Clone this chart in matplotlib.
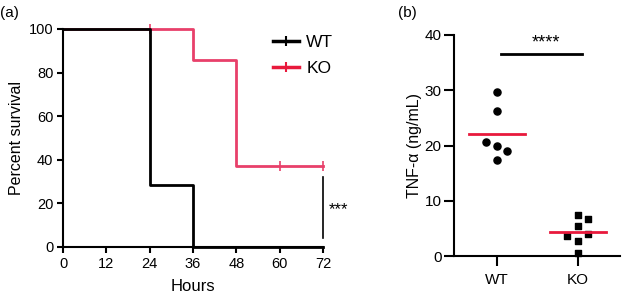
import matplotlib
matplotlib.use("Agg")
import matplotlib.pyplot as plt
from matplotlib.lines import Line2D
import numpy as np

plt.rcParams["font.family"] = ["Liberation Sans", "DejaVu Sans"]

# survival curves (step, post)
wt_hours = [0, 24, 36, 72]
wt_surv = [100, 28.6, 0, 0]
ko_hours = [0, 36, 48, 72]
ko_surv = [100, 85.7, 37, 37]
ko_censor_hours = [24, 60, 72]
ko_censor_surv = [100, 37, 37]

# TNF-alpha scatter
wt_tnf = [29.6, 26.2, 20.7, 20.0, 19.0, 17.4]
wt_jit = [0, 0, -0.13, 0, 0.13, 0]
ko_tnf = [7.4, 6.7, 5.4, 3.6, 4.0, 2.7, 0.5]
ko_jit = [0, 0.13, 0, -0.13, 0.13, 0, 0]
groups = ["WT", "KO"]

RED = "#e8193c"
PINK = "#e8406a"

fig = plt.figure(figsize=(6.22, 3.01), dpi=100)
W, H = 622, 301

def add_ax(x0, y0, x1, y1):
    return fig.add_axes([x0 / W, 1 - y1 / H, (x1 - x0) / W, (y1 - y0) / H])

# ---- (a) survival ----
ax = add_ax(63, 29, 323, 247)
ax.step(wt_hours, wt_surv, where="post", color="black", lw=2, clip_on=False, zorder=3)
ax.step(ko_hours, ko_surv, where="post", color=PINK, lw=2, clip_on=False, zorder=2)
ax.plot(ko_censor_hours, ko_censor_surv, ls="none", marker="|", ms=7, mew=1.2,
        color=PINK, clip_on=False)
ax.set_xlim(0, 72)
ax.set_ylim(0, 100)
ax.set_xticks(range(0, 73, 12))
ax.set_yticks(range(0, 101, 20))
for s in ["top", "right"]:
    ax.spines[s].set_visible(False)
for s in ["left", "bottom"]:
    ax.spines[s].set_linewidth(1.5)
ax.tick_params(width=1.5, length=4, labelsize=10.5, pad=3)
ax.set_xlabel("Hours", fontsize=12, labelpad=6)
ax.set_ylabel("Percent survival", fontsize=11.5, labelpad=3)

handles = [Line2D([], [], color="black", lw=2.5, marker="|", ms=7, mew=1.5),
           Line2D([], [], color=RED, lw=2.5, marker="|", ms=7, mew=1.5)]
ax.legend(handles, ["WT", "KO"], loc="upper right", bbox_to_anchor=(1.08, 1.02),
          frameon=False, fontsize=12.5, handlelength=1.5, handletextpad=0.4,
          labelspacing=0.6, borderaxespad=0.2)

ax.plot([72, 72], [4.3, 31.9], color="black", lw=1.2, clip_on=False)
ax.text(73.5, 17, "***", fontsize=12, va="center", ha="left")
fig.text(0 / W, 1 - 13 / H, "(a)", fontsize=11, va="center", ha="left")

# ---- (b) TNF-alpha ----
bx = add_ax(454, 35, 620, 256)
bx.scatter(np.array(wt_jit), wt_tnf, marker="o", s=26, color="black", zorder=3, clip_on=False)
bx.scatter(1 + np.array(ko_jit), ko_tnf, marker="s", s=24, color="black", zorder=3, clip_on=False)
for i, vals in enumerate([wt_tnf, ko_tnf]):
    m = np.mean(vals)
    bx.plot([i - 0.35, i + 0.35], [m, m], color=RED, lw=2, zorder=4)
bx.plot([0.05, 1.05], [36.6, 36.6], color="black", lw=2)
bx.text(0.6, 37.0, "****", fontsize=13, ha="center", va="bottom")
bx.set_xlim(-0.53, 1.52)
bx.set_ylim(0, 40)
bx.set_xticks([0, 1])
bx.set_xticklabels(groups)
bx.set_yticks(range(0, 41, 10))
for s in ["top", "right"]:
    bx.spines[s].set_visible(False)
for s in ["left", "bottom"]:
    bx.spines[s].set_linewidth(1.5)
bx.tick_params(width=1.5, length=7, labelsize=11, pad=2)
bx.tick_params(axis="x", pad=5)
bx.set_ylabel("TNF-\u03b1 (ng/mL)", fontsize=11.5, labelpad=2)
fig.text(398 / W, 1 - 13 / H, "(b)", fontsize=11, va="center", ha="left")

fig.savefig("out.png", dpi=100, facecolor="white")
